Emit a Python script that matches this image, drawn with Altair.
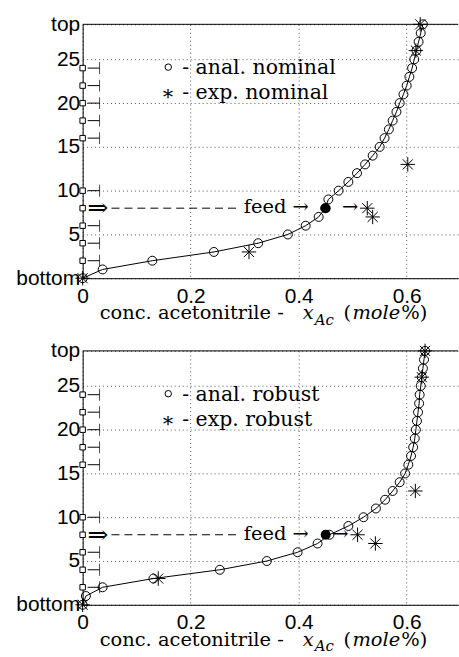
import altair as alt
import pandas as pd

# ---------------- data ----------------
stages = list(range(30))
anal_nominal = [0.000, 0.037, 0.129, 0.243, 0.325, 0.380, 0.413, 0.437, 0.449, 0.455,
                0.474, 0.492, 0.508, 0.523, 0.537, 0.550, 0.559, 0.567, 0.574, 0.581,
                0.587, 0.594, 0.600, 0.605, 0.610, 0.614, 0.618, 0.622, 0.626, 0.630]
anal_robust = [0.000, 0.006, 0.037, 0.131, 0.254, 0.341, 0.398, 0.435, 0.457, 0.492,
               0.520, 0.543, 0.560, 0.574, 0.587, 0.597, 0.603, 0.608, 0.612, 0.615,
               0.617, 0.619, 0.621, 0.623, 0.624, 0.626, 0.628, 0.630, 0.632, 0.634]
exp_stages = [0, 3, 7, 8, 13, 26, 29]
exp_nominal = [0.000, 0.308, 0.537, 0.527, 0.602, 0.617, 0.625]
exp_robust = [0.000, 0.140, 0.542, 0.509, 0.616, 0.628, 0.634]
tray_stages = [2, 4, 6, 10, 16, 18, 20, 22, 24]
feed_stage = 8
feed_x = 0.45
x_ticks = [0, 0.2, 0.4, 0.6]
y_ticks = [0, 5, 10, 15, 20, 25, 29]
legend_nominal = ["- anal.  nominal", "- exp.  nominal"]
legend_robust = ["- anal.  robust", "- exp.  robust"]

# ---------------- style ----------------
W, H = 377, 255
XDOM = [0, 0.695]
YDOM = [0, 29]
SERIF = "DejaVu Serif"
SANS = "Liberation Sans"
TS = 19.5
LS = 20.5
STAR = "M-1,0L1,0M0,-1L0,1M-0.7,-0.7L0.7,0.7M-0.7,0.7L0.7,-0.7"

xs = alt.Scale(domain=XDOM, nice=False, zero=False)
ys = alt.Scale(domain=YDOM, nice=False, zero=False)
xaxis = alt.Axis(values=x_ticks, title=None, grid=True, labelFlush=False,
                 labelExpr="datum.value == 0 ? '0' : format(datum.value, '.1f')",
                 labelPadding=7)
yaxis = alt.Axis(values=y_ticks, title=None, grid=True, labelFlush=False,
                 labelExpr="datum.value == 0 ? 'bottom' : datum.value == 29 ? 'top' : datum.label",
                 labelPadding=3)


def X(f="x:Q"):
    return alt.X(f, scale=xs, axis=xaxis)


def Y(f="stage:Q"):
    return alt.Y(f, scale=ys, axis=yaxis)


def text_at(txt, px, py, size=TS, align="left", style="normal"):
    return alt.Chart(pd.DataFrame({"t": [txt]})).mark_text(
        font=SERIF, fontSize=size, align=align, baseline="alphabetic",
        fontStyle=style, color="black"
    ).encode(x=alt.value(px), y=alt.value(py), text="t:N")


def panel(anal, exp, legend):
    anal_df = pd.DataFrame({"stage": stages, "x": anal})
    exp_df = pd.DataFrame({"stage": exp_stages, "x": exp})
    feed_df = pd.DataFrame({"stage": [feed_stage], "x": [feed_x]})
    exp_feed_df = pd.DataFrame({"stage": [feed_stage], "x": [exp[exp_stages.index(feed_stage)]]})
    tray_df = pd.DataFrame({"stage": tray_stages})
    col_df = pd.DataFrame({"stage": sorted(tray_stages + [feed_stage])})
    top_df = pd.DataFrame({"stage": [YDOM[1]]})
    one = pd.DataFrame({"k": [0]})

    frame = alt.Chart(top_df).mark_rule(color="black", strokeWidth=1).encode(
        y=Y(), x=alt.value(0), x2=alt.value(W))
    line = alt.Chart(anal_df).mark_line(color="black", strokeWidth=1).encode(
        x=X(), y=Y(), order="stage:Q")
    circ = alt.Chart(anal_df).mark_point(shape="circle", filled=False, color="black",
                                         size=81, strokeWidth=1, opacity=1).encode(x=X(), y=Y())
    stars = alt.Chart(exp_df).mark_point(shape=STAR, filled=False, color="black",
                                         size=210, strokeWidth=1, opacity=1).encode(x=X(), y=Y())
    feedpt = alt.Chart(feed_df).mark_point(shape="circle", filled=True, color="black",
                                           size=100, opacity=1).encode(x=X(), y=Y())
    squares = alt.Chart(col_df).mark_point(shape="square", filled=True, fill="white",
                                           stroke="black", strokeWidth=1, size=30,
                                           opacity=1).encode(x=alt.value(0), y=Y())
    tray_h = alt.Chart(tray_df).mark_rule(color="black", strokeWidth=1).encode(
        x=alt.value(5), x2=alt.value(17), y=Y())
    tray_v = alt.Chart(tray_df).mark_tick(color="black", thickness=1, size=12,
                                          orient="vertical").encode(x=alt.value(17), y=Y())
    feed_arrow = alt.Chart(feed_df).mark_text(text="\u21d2", font=SERIF, fontSize=25,
                                              align="left", baseline="middle",
                                              color="black").encode(x=alt.value(5), y=Y())
    feed_dash = alt.Chart(feed_df).mark_rule(color="black", strokeWidth=1,
                                             strokeDash=[8, 5]).encode(
        x=alt.value(29), x2=alt.value(155), y=Y())
    feed_txt = alt.Chart(feed_df).mark_text(text="feed \u2192", font=SERIF, fontSize=TS,
                                            align="right", baseline="alphabetic", dx=-17, dy=5,
                                            color="black").encode(x=X(), y=Y())
    feed_arrow2 = alt.Chart(exp_feed_df).mark_text(text="\u2192", font=SERIF, fontSize=TS,
                                                   align="right", baseline="alphabetic",
                                                   dx=-9, dy=5, color="black").encode(x=X(), y=Y())
    # legend (text annotation in the plot)
    leg_c = alt.Chart(one).mark_point(shape="circle", filled=False, color="black", size=42,
                                      strokeWidth=1, opacity=1).encode(
        x=alt.value(86), y=alt.value(43))
    leg_s = text_at("\u2217", 86, 76, size=LS, align="center")
    leg1 = text_at(legend[0], 100, 50, size=LS)
    leg2 = text_at(legend[1], 100, 75, size=LS)
    # x-axis title (mixed styles)
    ty = 296
    t1 = text_at("conc. acetonitrile -", 202, ty, align="right")
    t2 = text_at("x", 221, ty, style="italic")
    t3 = text_at("Ac", 233, ty + 5.5, size=15, style="italic")
    t4 = text_at("(", 262, ty)
    t5 = text_at("mole", 271, ty, style="italic")
    t6 = text_at("%)", 320, ty)

    return alt.layer(frame, line, circ, stars, feedpt, squares, tray_h, tray_v,
                     feed_arrow, feed_dash, feed_txt, feed_arrow2, leg_c, leg_s, leg1, leg2,
                     t1, t2, t3, t4, t5, t6).properties(width=W, height=H)


top = panel(anal_nominal, exp_nominal, legend_nominal)
bottom = panel(anal_robust, exp_robust, legend_robust)

chart = alt.vconcat(top, bottom, spacing=12).properties(
    padding={"left": 15, "top": 12, "right": 0, "bottom": 0},
    background="white",
).configure_view(stroke=None).configure_axis(
    labelFont=SANS, labelFontSize=21, labelColor="black",
    domainColor="black", domainWidth=1, ticks=False,
    gridColor="#555555", gridDash=[1, 3], gridWidth=1, gridOpacity=1,
)

chart.save("out.html", embed_options={"renderer": "svg", "actions": False})
